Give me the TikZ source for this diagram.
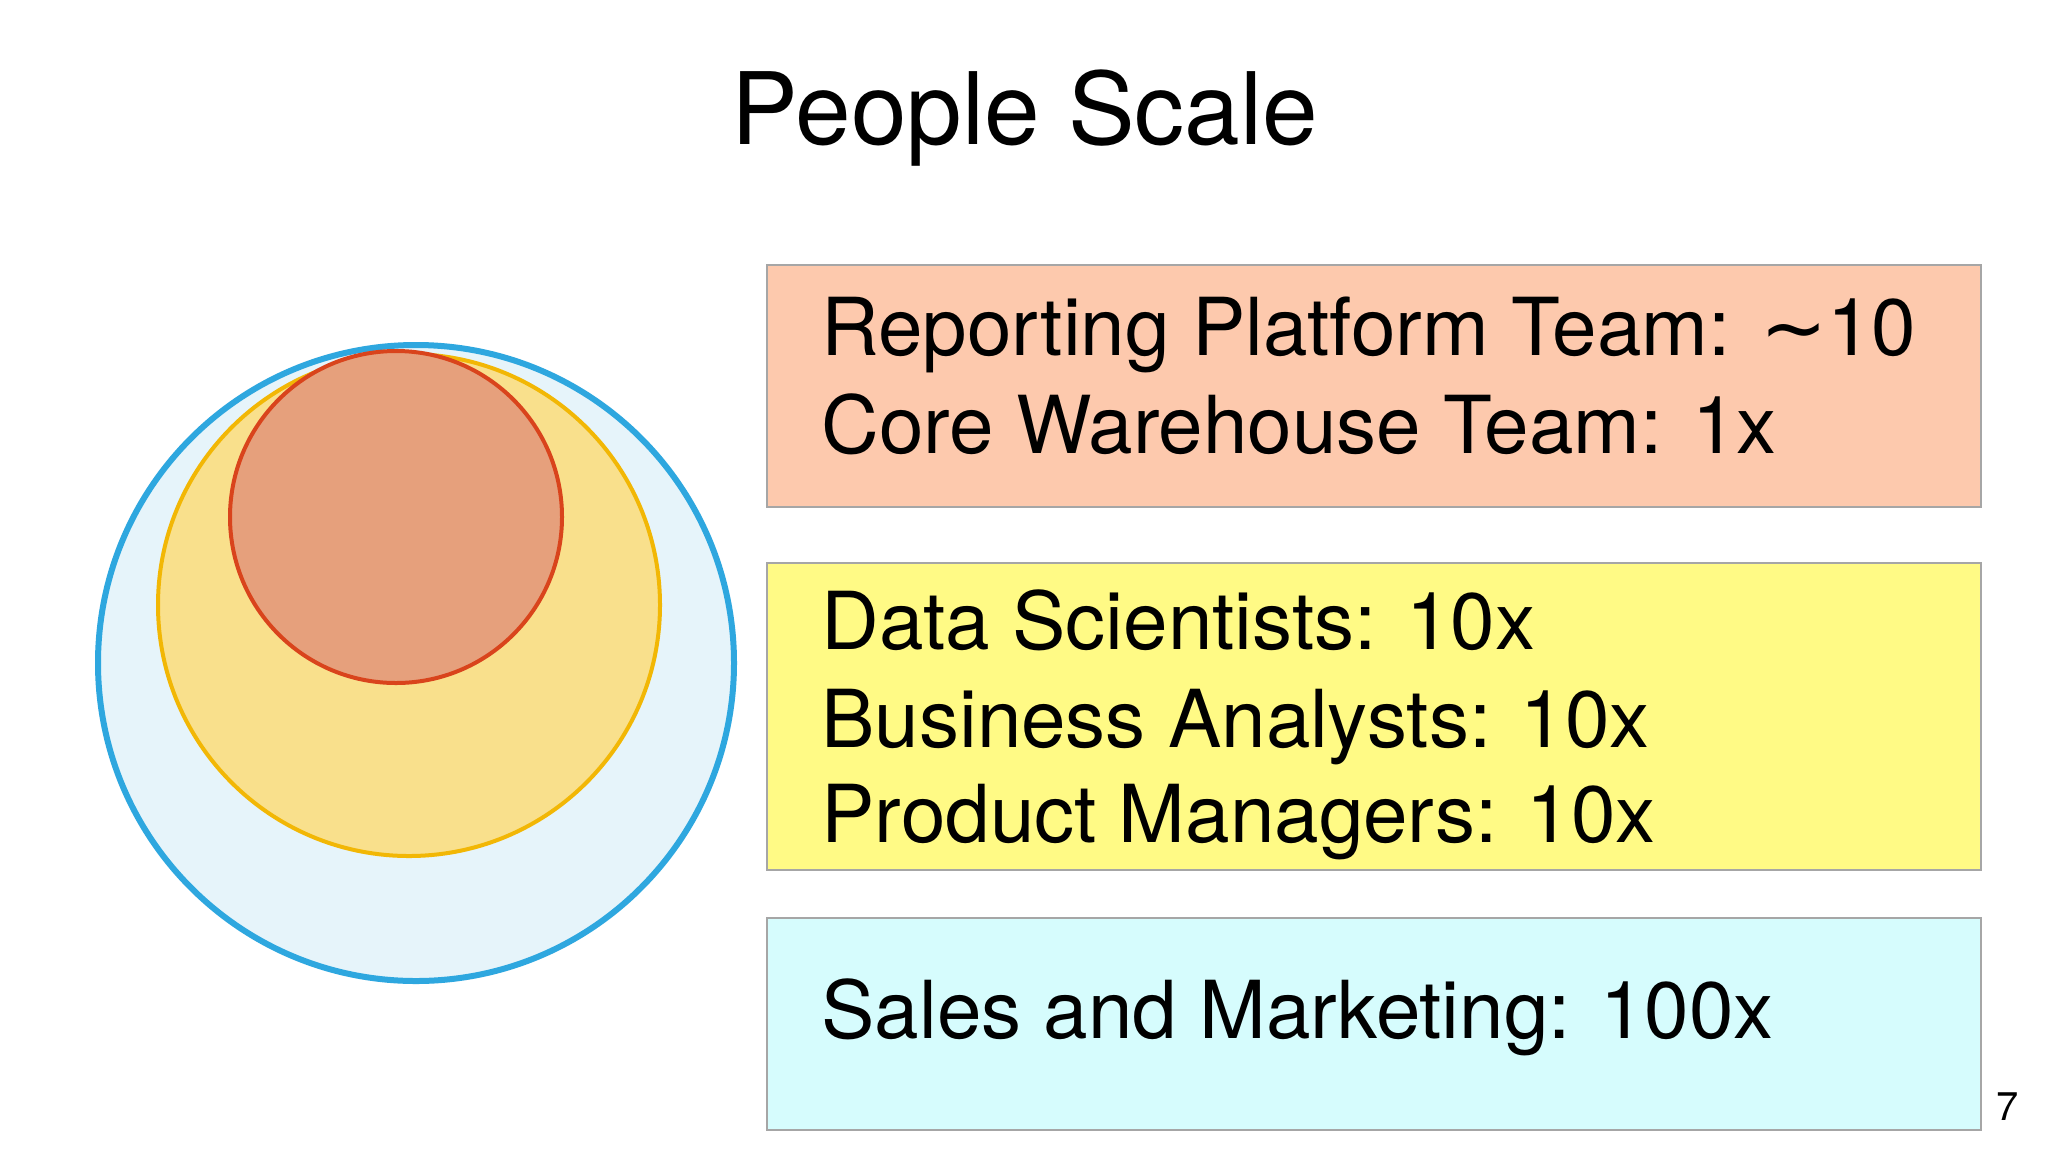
\documentclass[tikz,border=0pt]{standalone}
\usepackage{fontspec}
\setmainfont{TeX Gyre Heros}
\newfontfamily\dejavu{DejaVu Sans}
\begin{document}
\begin{tikzpicture}[x=0.5pt,y=-0.5pt,
  panel/.style={draw=gray!70,line width=0.8pt},
  txt/.style={anchor=base west,inner sep=0pt,font=\fontsize{40}{48}\selectfont}]
\useasboundingbox[fill=white] (0,0) rectangle (2048,1152);
\node[inner sep=0pt,font=\fontsize{50}{60}\selectfont] (title) at (1025,118) {People Scale};
% circles
\definecolor{cblue}{HTML}{2EA7DF}\definecolor{fblue}{HTML}{E6F4FA}
\definecolor{cyel}{HTML}{F2B705}\definecolor{fyel}{HTML}{F9E08C}
\definecolor{cor}{HTML}{D9441C}\definecolor{for}{HTML}{E6A07C}
\node[circle,draw=cblue,fill=fblue,line width=3pt,minimum size=318pt,inner sep=0pt] (outer) at (416,663) {};
\node[circle,draw=cyel,fill=fyel,line width=2pt,minimum size=251pt,inner sep=0pt] (mid) at (409,605) {};
\node[circle,draw=cor,fill=for,line width=2pt,minimum size=166pt,inner sep=0pt] (inner) at (396,517) {};
% boxes
\definecolor{b1}{HTML}{FDC9AD}\definecolor{b2}{HTML}{FFFA85}\definecolor{b3}{HTML}{D6FCFD}
\draw[panel,fill=b1] (767,265) rectangle (1981,507);
\draw[panel,fill=b2] (767,563) rectangle (1981,870);
\draw[panel,fill=b3] (767,918) rectangle (1981,1130);
\node[txt] (t1) at (821,355) {Reporting Platform Team: {\dejavu ∼}10};
\node[txt] (t2) at (821,453) {Core Warehouse Team: 1x};
\node[txt] (t3) at (821,649) {Data Scientists: 10x};
\node[txt] (t4) at (821,747) {Business Analysts: 10x};
\node[txt] (t5) at (821,842) {Product Managers: 10x};
\node[txt] (t6) at (821,1038) {Sales and Marketing: 100x};
\node[anchor=base,inner sep=0pt,font=\fontsize{20}{24}\selectfont] (pg) at (2008,1120) {7};
\end{tikzpicture}
\end{document}
